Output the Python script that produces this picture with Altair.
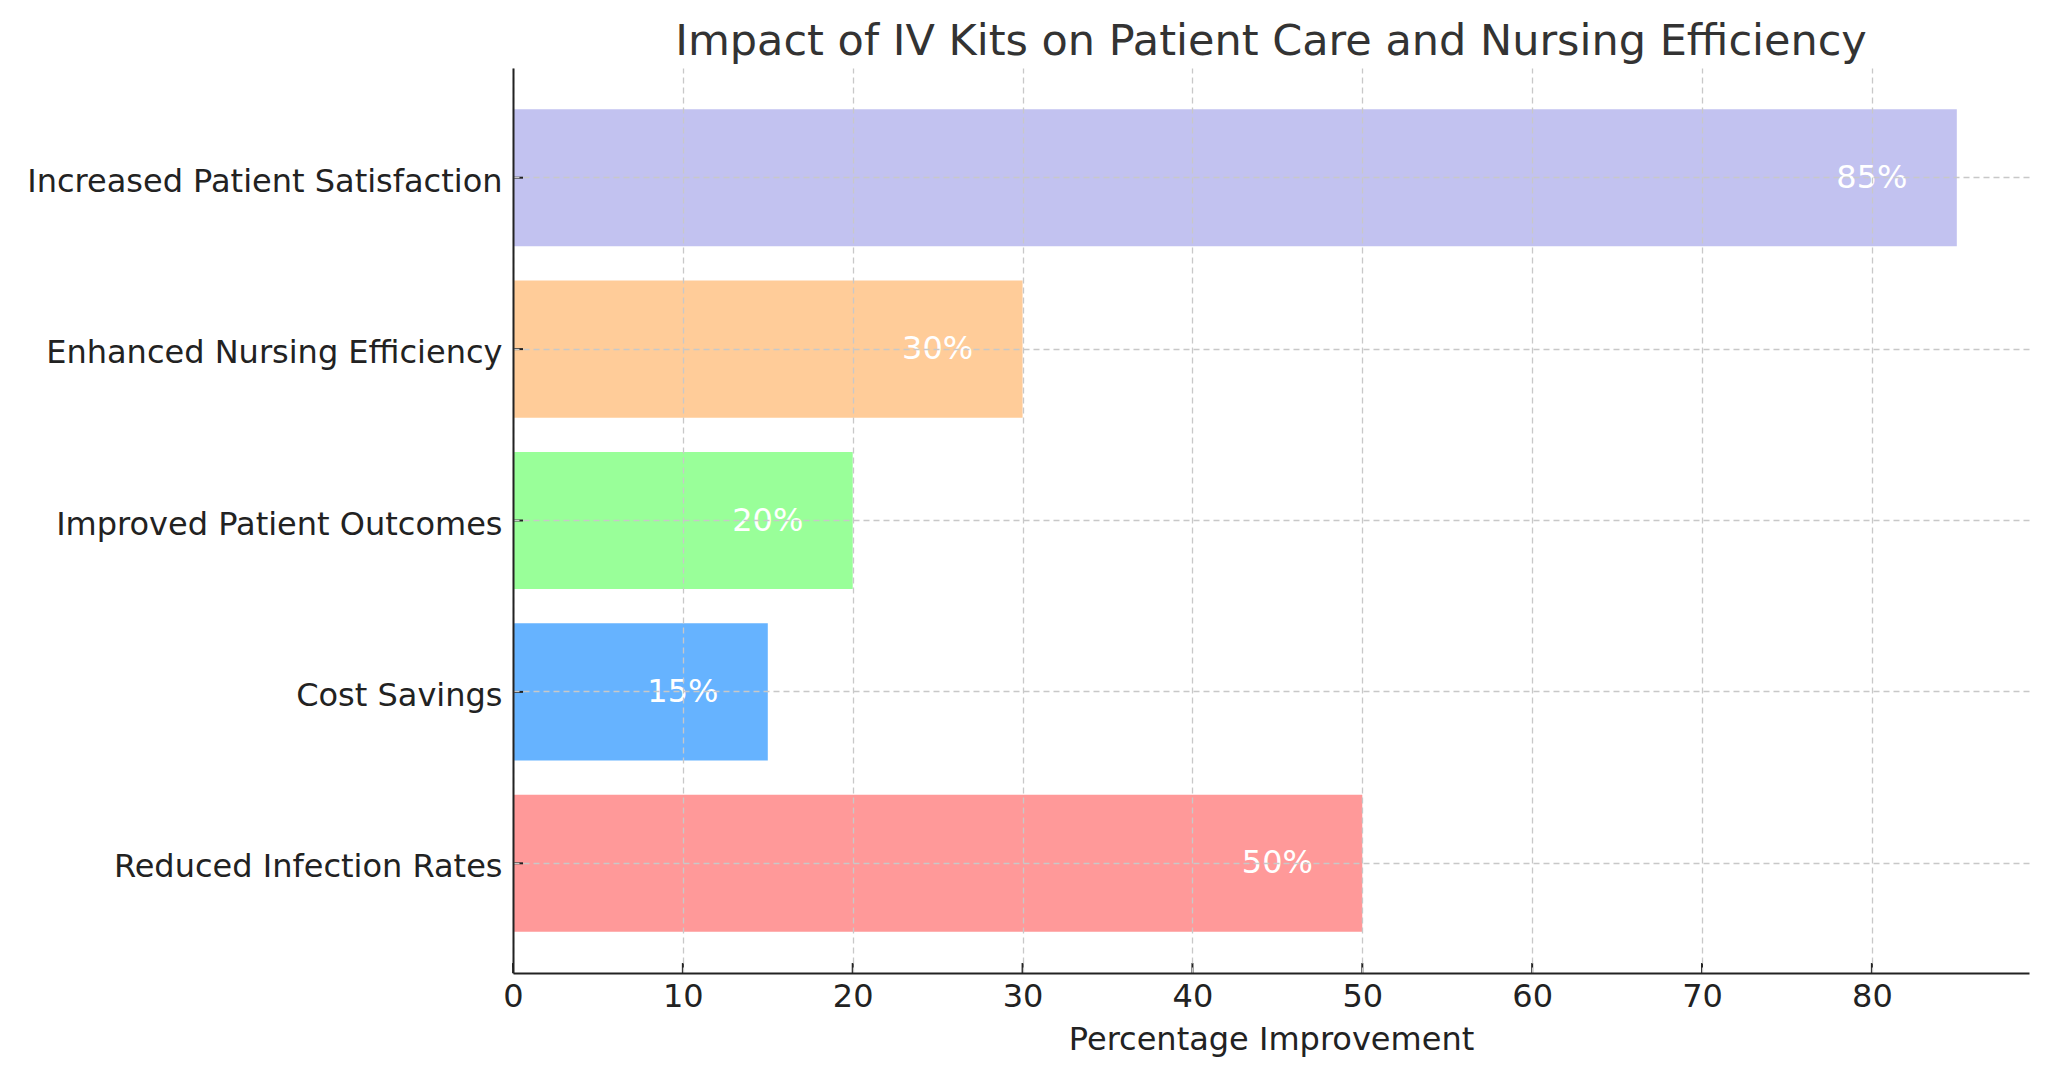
import altair as alt
import pandas as pd

categories = [
    "Reduced Infection Rates",
    "Cost Savings",
    "Improved Patient Outcomes",
    "Enhanced Nursing Efficiency",
    "Increased Patient Satisfaction",
]
values = [50, 15, 20, 30, 85]
colors = ["#ff9999", "#66b3ff", "#99ff99", "#ffcc99", "#c2c2f0"]
x_ticks = [0, 10, 20, 30, 40, 50, 60, 70, 80]

order_top_down = list(reversed(categories))

df = pd.DataFrame({"category": categories, "value": values, "color": colors})
df["label"] = [f"{v}%" for v in values]
ticks_df = pd.DataFrame({"t": x_ticks})

W, H = 1516, 905
FONT = "DejaVu Sans"

xscale = alt.Scale(domain=[0, 89.25], nice=False, zero=True)
yscale = alt.Scale(domain=order_top_down, paddingInner=0.2, paddingOuter=0.24)

bars = alt.Chart(df).mark_bar(opacity=1).encode(
    x=alt.X("value:Q", scale=xscale,
            axis=alt.Axis(title="Percentage Improvement", values=x_ticks, format="d",
                          grid=True, gridDash=[6, 4], gridColor="#c8c8c8", gridWidth=1.3,
                          domainColor="#222222", domainWidth=2, ticks=False,
                          labelFontSize=32, labelFont=FONT, labelColor="#222222",
                          labelPadding=8, labelFlush=False, titleFontSize=32, titleFont=FONT,
                          titleColor="#222222", titleFontWeight="normal", titlePadding=12,
                          zindex=1)),
    y=alt.Y("category:N", scale=yscale, sort=order_top_down,
            axis=alt.Axis(title=None, grid=True, gridDash=[6, 4], gridColor="#c8c8c8",
                          gridWidth=1.3, domainColor="#222222", domainWidth=2, ticks=False,
                          labelFontSize=32, labelFont=FONT, labelColor="#222222",
                          labelPadding=11, labelLimit=800, labelOffset=4, zindex=1)),
    color=alt.Color("color:N", scale=None, legend=None),
)

text = alt.Chart(df).transform_calculate(pos="datum.value - 5").mark_text(
    color="white", fontSize=32, font=FONT, align="center", baseline="middle"
).encode(
    x=alt.X("pos:Q", scale=xscale),
    y=alt.Y("category:N", scale=yscale, sort=order_top_down),
    text="label:N",
)

xtick_marks = alt.Chart(ticks_df).mark_rule(color="#222222", strokeWidth=2).encode(
    x=alt.X("t:Q", scale=xscale),
    y=alt.value(H),
    y2=alt.value(H - 10),
)

ytick_marks = alt.Chart(df).mark_rule(color="#222222", strokeWidth=2).encode(
    y=alt.Y("category:N", scale=yscale, sort=order_top_down),
    x=alt.value(0),
    x2=alt.value(10),
)

chart = alt.layer(bars, text, xtick_marks, ytick_marks).properties(
    width=W,
    height=H,
    title=alt.TitleParams(
        "Impact of IV Kits on Patient Care and Nursing Efficiency",
        fontSize=43, font=FONT, color="#333333", fontWeight="normal",
        anchor="middle", offset=4,
    ),
    autosize=alt.AutoSizeParams(type="none"),
    padding={"left": 505, "top": 60, "right": 11, "bottom": 96},
).configure(background="white").configure_view(stroke=None)

chart.save("out.html", embed_options={"renderer": "svg", "actions": False})
